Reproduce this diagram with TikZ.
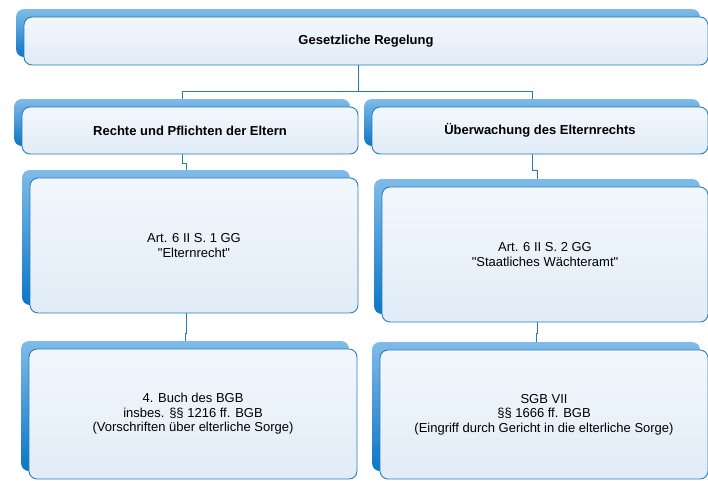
\documentclass[tikz,border=0pt]{standalone}
\usepackage{fontspec}
\setmainfont{Liberation Sans}
\usetikzlibrary{shadows}
\definecolor{boxline}{RGB}{36,125,190}
\definecolor{backtop}{RGB}{128,187,232}
\definecolor{backbot}{RGB}{12,118,198}
\definecolor{fronttop}{RGB}{242,247,252}
\definecolor{frontbot}{RGB}{225,236,247}

\begin{document}
\begin{tikzpicture}[x=1pt, y=-1pt,
  box/.style={draw=boxline, line width=.9pt, rounded corners=8pt, top color=fronttop, bottom color=frontbot,
    inner sep=0pt, align=center, font=\fontsize{13}{14.5}\selectfont,
    general shadow={shadow xshift=-8pt, shadow yshift=8pt, draw=none, top color=backtop, bottom color=backbot}},
  head/.style={box, font=\fontsize{13}{14.5}\selectfont\bfseries},
  conn/.style={draw=boxline, line width=.9pt}]
\useasboundingbox (0,0) rectangle (708,480);
\node[head, minimum width=684pt, minimum height=48pt] (regelung) at (366,41) {Gesetzliche Regelung};
\node[head, minimum width=336pt, minimum height=47pt] (pflichten) at (190,130.5) {Rechte und Pflichten der Eltern};
\node[head, minimum width=336pt, minimum height=47pt] (wacht) at (540,130.5) {Überwachung des Elternrechts};
\node[box, minimum width=328pt, minimum height=135pt] (elternrecht) at (194,245.5) {Art. 6 II S. 1 GG\\\textquotedbl Elternrecht\textquotedbl};
\node[box, minimum width=326pt, minimum height=135pt] (waechteramt) at (545,254.5) {Art. 6 II S. 2 GG\\\textquotedbl Staatliches Wächteramt\textquotedbl};
\node[box, minimum width=328pt, minimum height=130pt] (bgb) at (193,414) {4. Buch des BGB\\insbes. \S\S{} 1216 ff. BGB\\(Vorschriften über elterliche Sorge)};
\node[box, minimum width=328pt, minimum height=129pt] (sgb) at (544,414.5) {SGB VII\\\S\S{} 1666 ff. BGB\\(Eingriff durch Gericht in die elterliche Sorge)};
\draw[conn] ([xshift=-8pt]regelung.south) -- ++(0,26) -| ([xshift=-8pt,yshift=8pt]pflichten.north);
\draw[conn] ([xshift=-8pt]regelung.south) -- ++(0,26) -| ([xshift=-8pt,yshift=8pt]wacht.north);
\draw[conn] ([xshift=-8pt]pflichten.south) -- ++(0,9) -| ([xshift=-8pt,yshift=8pt]elternrecht.north);
\draw[conn] ([xshift=-8pt]wacht.south) -- ++(0,16) -| ([xshift=-8pt,yshift=8pt]waechteramt.north);
\draw[conn] ([xshift=-8pt]elternrecht.south) -- ++(0,20) -| ([xshift=-8pt,yshift=8pt]bgb.north);
\draw[conn] ([xshift=-8pt]waechteramt.south) -- ++(0,11) -| ([xshift=-8pt,yshift=8pt]sgb.north);
\end{tikzpicture}
\end{document}
